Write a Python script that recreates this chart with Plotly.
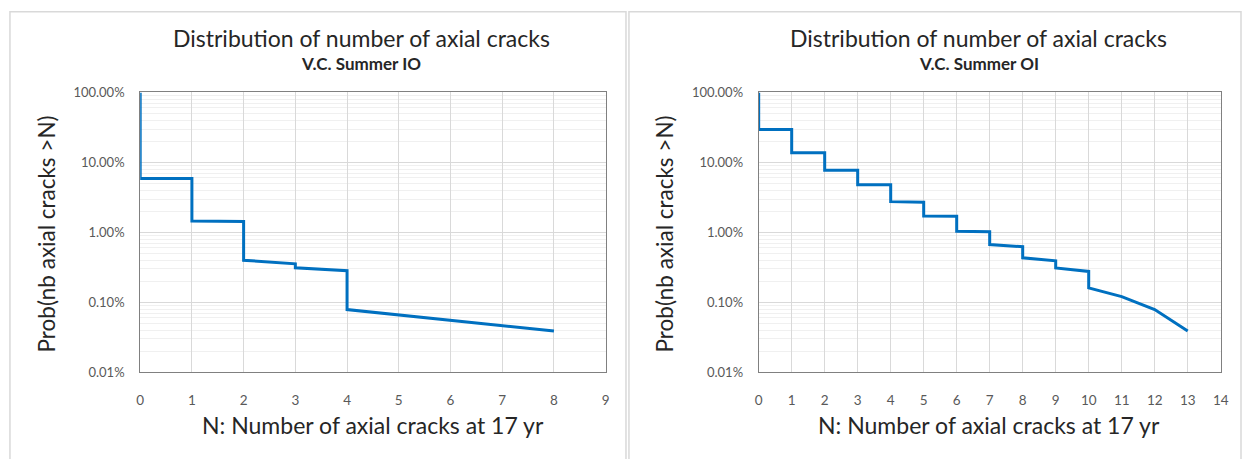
import plotly.graph_objects as go

# ---- data (probabilities in percent) ----
left_n = [0, 0, 1, 1, 2, 2, 3, 3, 4, 4, 8]
left_p = [100, 5.9, 5.9, 1.46, 1.43, 0.40, 0.355, 0.312, 0.283, 0.079, 0.039]

right_n = [0, 0, 1, 1, 2, 2, 3, 3, 4, 4, 5, 5, 6, 6, 7, 7, 8, 8, 9, 9, 10, 10, 11, 12, 13]
right_p = [100, 29.5, 29.5, 13.8, 13.8, 7.7, 7.7, 4.8, 4.8, 2.75, 2.70, 1.72, 1.70, 1.04,
           1.02, 0.67, 0.625, 0.433, 0.392, 0.31, 0.277, 0.161, 0.121, 0.079, 0.039]

main_title = "Distribution of number of axial cracks"
subtitles = ["V.C. Summer IO", "V.C. Summer OI"]
x_title = "N: Number of axial cracks at 17 yr"
y_title = "Prob(nb axial cracks >N)"
y_tickvals = [0.0001, 0.001, 0.01, 0.1, 1]
x_max = [9, 14]

W, H = 1250, 459
FONT = "Lato, 'Open Sans', sans-serif"
BLUE = "#0070C0"


def px(x):
    return x / W


def py(y):
    return 1 - y / H


minor_vals = [m * 10 ** e for e in range(-4, 0) for m in range(2, 10)]

fig = go.Figure()
fig.add_trace(go.Scatter(x=left_n, y=[v / 100 for v in left_p], mode="lines",
                         line=dict(color=BLUE, width=3), xaxis="x", yaxis="y",
                         showlegend=False))
fig.add_trace(go.Scatter(x=right_n, y=[v / 100 for v in right_p], mode="lines",
                         line=dict(color=BLUE, width=3), xaxis="x2", yaxis="y2",
                         showlegend=False))

plot_x = [(137.5, 607.5), (762, 1228.5)]
plot_y = (87.5, 377.5)


def xaxis(i):
    return dict(domain=[px(plot_x[i][0]), px(plot_x[i][1])], range=[0, x_max[i]],
                dtick=1, tick0=0, showgrid=True, gridcolor="#d9d9d9", gridwidth=1,
                showline=True, linecolor="#808080", linewidth=1, mirror=True,
                zeroline=False, ticks="", ticklabelstandoff=15,
                tickfont=dict(family=FONT, size=13.5, color="#595959"),
                anchor="y" if i == 0 else "y2")


def yaxis(i):
    return dict(domain=[py(plot_y[1]), py(plot_y[0])], type="log", range=[-4, 0],
                tickvals=y_tickvals, tickformat=".2%", showgrid=True, gridcolor="#d9d9d9",
                gridwidth=1, showline=True, linecolor="#808080", linewidth=1, mirror=True,
                zeroline=False, ticks="", ticklabelstandoff=12,
                tickfont=dict(family=FONT, size=13, color="#595959"),
                minor=dict(tickvals=minor_vals, showgrid=True, gridcolor="#f0f0f0", gridwidth=1),
                anchor="x" if i == 0 else "x2")


annotations = []
title_cx = [360.5, 984]
xt_cx = [373, 995]
yt_cx = [43, 667]
for i in range(2):
    annotations.append(dict(text=main_title, x=px(title_cx[i]), y=py(31), xref="paper",
                            yref="paper", showarrow=False, xanchor="center", yanchor="middle",
                            font=dict(family=FONT, size=23, color="#262626")))
    annotations.append(dict(text="<b>" + subtitles[i] + "</b>", x=px(title_cx[i]), y=py(57),
                            xref="paper", yref="paper", showarrow=False, xanchor="center",
                            yanchor="middle", font=dict(family=FONT, size=17, color="#262626")))
    annotations.append(dict(text=x_title, x=px(xt_cx[i]), y=py(432), xref="paper",
                            yref="paper", showarrow=False, xanchor="center", yanchor="middle",
                            font=dict(family=FONT, size=23, color="#262626")))
    annotations.append(dict(text=y_title, x=px(yt_cx[i]), y=py(234), xref="paper",
                            yref="paper", showarrow=False, xanchor="center", yanchor="middle",
                            textangle=-90, font=dict(family=FONT, size=22.5, color="#262626")))

shapes = [
    dict(type="rect", xref="paper", yref="paper", x0=px(6), x1=px(628), y0=py(4), y1=py(470),
         line=dict(color="#d9d9d9", width=1.5), layer="below"),
    dict(type="rect", xref="paper", yref="paper", x0=px(631), x1=px(1249), y0=py(4), y1=py(470),
         line=dict(color="#d9d9d9", width=1.5), layer="below"),
]

fig.update_layout(
    width=W, height=H, margin=dict(l=0, r=0, t=0, b=0),
    paper_bgcolor="white", plot_bgcolor="white",
    xaxis=xaxis(0), yaxis=yaxis(0), xaxis2=xaxis(1), yaxis2=yaxis(1),
    annotations=annotations, shapes=shapes, showlegend=False,
)

fig.write_html("out.html")
